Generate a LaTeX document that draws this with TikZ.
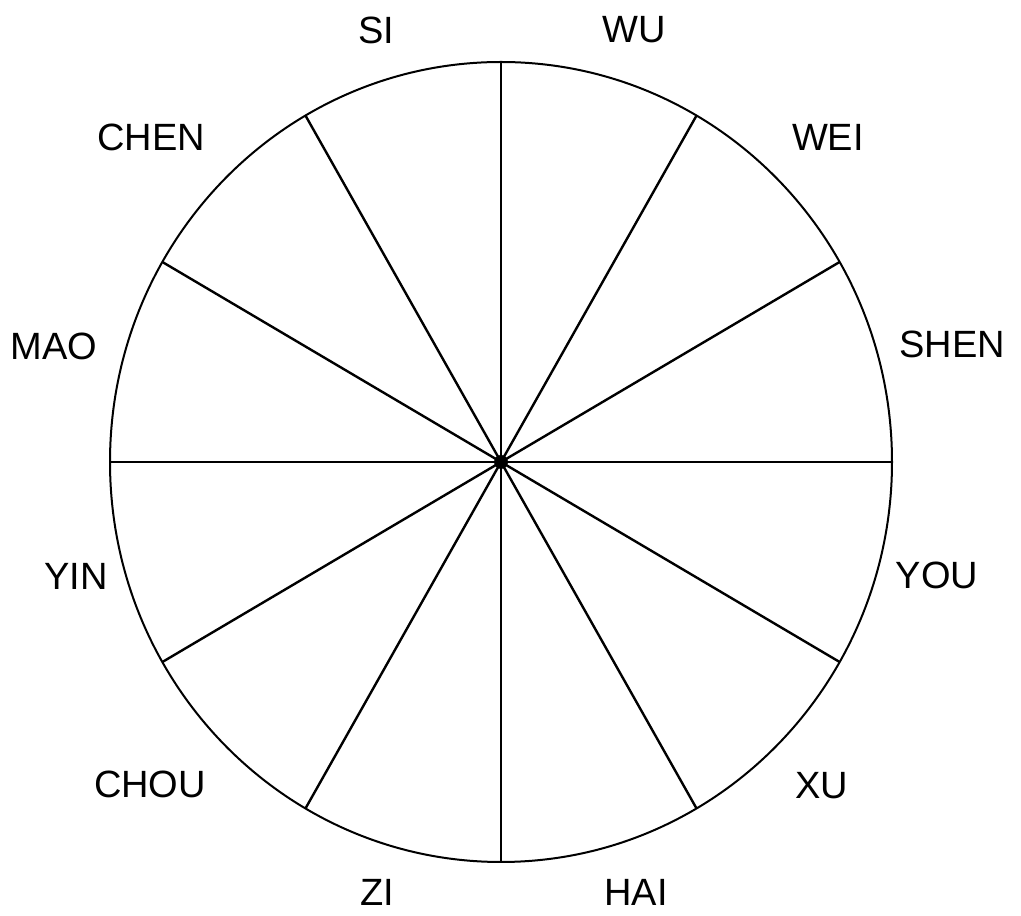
\documentclass[tikz,border=0pt]{standalone}
\usepackage{fontspec}
\setmainfont{Liberation Sans}
\usetikzlibrary{calc}
\tikzset{
  lbl/.style={inner sep=0pt, font=\fontsize{38}{45}\selectfont},
  spoke/.style={line width=2.4pt},
  rim/.style={line width=2pt}
}
\begin{document}
\begin{tikzpicture}[x=1pt,y=1pt]
\useasboundingbox (0,0) rectangle (1021,916);
\coordinate (c) at (501,454);
\draw[rim] (c) ellipse [x radius=391, y radius=400];
\foreach \a in {0,30,...,330}{
  \coordinate (p\a) at ($(c)+({391*cos(\a)},{400*sin(\a)})$);
  \draw[spoke] (c) -- (p\a);
}
\fill (c) circle (7);
\node[lbl] (si)   at (376,886) {SI};
\node[lbl] (wu)   at (634,886) {WU};
\node[lbl] (chen) at (151,779) {CHEN};
\node[lbl] (wei)  at (828,779) {WEI};
\node[lbl] (mao)  at (54,570) {MAO};
\node[lbl] (shen) at (952,572) {SHEN};
\node[lbl] (yin)  at (76,340) {YIN};
\node[lbl] (you)  at (937,341) {YOU};
\node[lbl] (chou) at (150,132) {CHOU};
\node[lbl] (xu)   at (822,130) {XU};
\node[lbl] (zi)   at (377,24) {ZI};
\node[lbl] (hai)  at (636,24) {HAI};
\end{tikzpicture}
\end{document}
